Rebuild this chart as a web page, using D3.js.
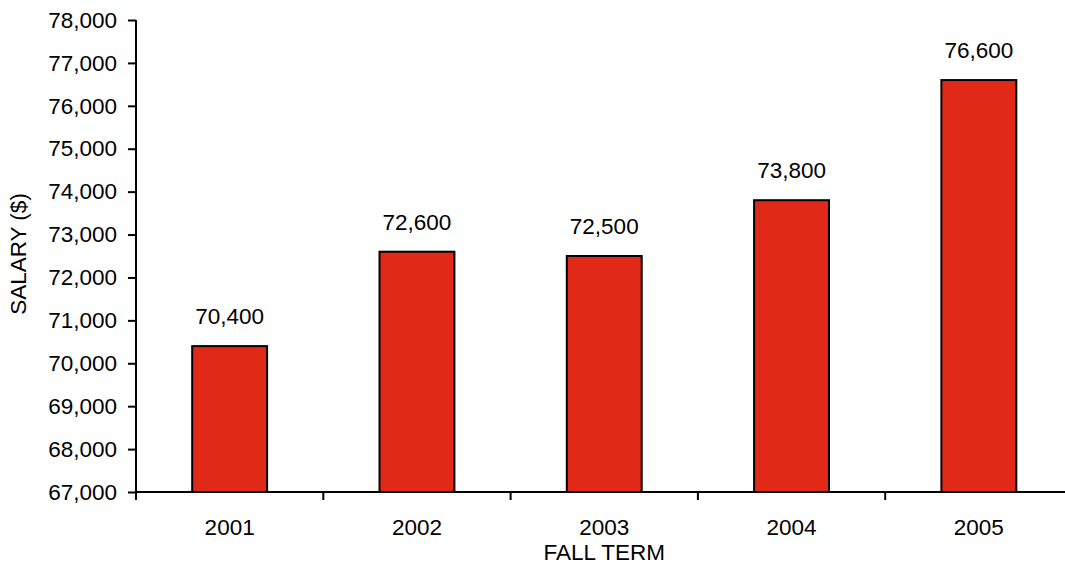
<!DOCTYPE html>
<html><head><meta charset="utf-8">
<script src="https://cdn.jsdelivr.net/npm/d3@7"></script>
<style>body{margin:0;background:#fff}svg{display:block}text{font-family:"Liberation Sans",Arial,sans-serif;fill:#000}</style>
</head><body><svg id="c" width="1065" height="566"></svg>
<script>
const categories = ["2001","2002","2003","2004","2005"];
const salaries = [70400,72600,72500,73800,76600];
const yTicks = [67000,68000,69000,70000,71000,72000,73000,74000,75000,76000,77000,78000];

(function(){
const svg = d3.select("#c");
const pL = 136, pR = 1072.5, pT = 20, pB = 492;
const fs = 22.5;
const x = d3.scaleBand().domain(categories).range([pL, pR]).padding(0);
const y = d3.scaleLinear().domain([67000,78000]).range([pB, pT]);
const fmt = d3.format(",");
const bw = x.bandwidth()*0.4;

svg.selectAll("rect.bar").data(salaries).join("rect")
  .attr("class","bar")
  .attr("x",(d,i)=>x(categories[i])+x.bandwidth()/2-bw/2)
  .attr("y",d=>y(d))
  .attr("width",bw)
  .attr("height",d=>pB-y(d))
  .attr("fill","#E02A17")
  .attr("stroke","#000").attr("stroke-width",2);

svg.selectAll("text.val").data(salaries).join("text")
  .attr("class","val")
  .attr("x",(d,i)=>x(categories[i])+x.bandwidth()/2)
  .attr("y",d=>y(d)-22)
  .attr("text-anchor","middle").attr("font-size",fs)
  .text(d=>fmt(d));

const ya = svg.append("g").attr("transform",`translate(${pL},0)`)
  .call(d3.axisLeft(y).tickValues(yTicks).tickFormat(fmt).tickSize(8).tickPadding(11));
ya.select(".domain").attr("stroke","#000").attr("stroke-width",2).attr("d",`M0,${pT}V${pB}`);
ya.selectAll(".tick line").attr("stroke","#000").attr("stroke-width",2);
ya.selectAll(".tick text").attr("font-size",fs).attr("font-family","Liberation Sans, Arial, sans-serif").attr("fill","#000");

const xa = svg.append("g").attr("transform",`translate(0,${pB})`)
  .call(d3.axisBottom(x).tickSize(0).tickPadding(27));
xa.select(".domain").attr("stroke","#000").attr("stroke-width",2).attr("d",`M${pL},0H${pR}`);
xa.selectAll(".tick text").attr("font-size",fs).attr("font-family","Liberation Sans, Arial, sans-serif").attr("fill","#000");
const bounds = categories.map(c=>x(c)).concat([pR]);
svg.append("g").selectAll("line").data(bounds).join("line")
  .attr("x1",d=>d).attr("x2",d=>d).attr("y1",pB).attr("y2",pB+8)
  .attr("stroke","#000").attr("stroke-width",2);

svg.append("text").attr("x",(pL+pR)/2).attr("y",560)
  .attr("text-anchor","middle").attr("font-size",fs).text("FALL TERM");
svg.append("text").attr("transform",`translate(26,${(pT+pB)/2 - 2}) rotate(-90)`)
  .attr("text-anchor","middle").attr("font-size",fs).text("SALARY ($)");
})();
</script></body></html>
